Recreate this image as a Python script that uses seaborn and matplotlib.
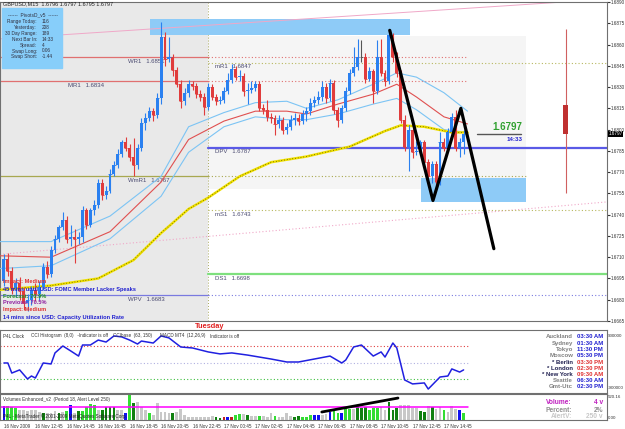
import matplotlib
matplotlib.use("Agg")
import matplotlib.pyplot as plt
from matplotlib.patches import Rectangle
import numpy as np
import pandas as pd
import seaborn as sns

sns.set_style("white")
plt.rcParams["font.family"] = ["Liberation Sans", "DejaVu Sans"]

# ---------------------------------------------------------------
# GBPUSD M15 candles, bar 0 = 16 Nov 2009 10:45
# ---------------------------------------------------------------
first_open = 1.6693
close = [1.6709, 1.6700, 1.6688, 1.6692, 1.6686, 1.6678, 1.6680, 1.6687, 1.6684, 1.6689,
         1.6703, 1.6698, 1.6715, 1.6723, 1.6731, 1.6736, 1.6723, 1.6724, 1.6723, 1.6724,
         1.6743, 1.6733, 1.6743, 1.6747, 1.6762, 1.6754, 1.6757, 1.6769, 1.6775, 1.6783,
         1.6791, 1.6787, 1.6781, 1.6775, 1.6787, 1.6805, 1.6808, 1.6813, 1.6810, 1.6822,
         1.6865, 1.6850, 1.6851, 1.6842, 1.6832, 1.6820, 1.6826, 1.6832, 1.6831, 1.6825,
         1.6823, 1.6816, 1.6830, 1.6823, 1.6820, 1.6821, 1.6827, 1.6835, 1.6843, 1.6837,
         1.6838, 1.6827, 1.6828, 1.6829, 1.6832, 1.6815, 1.6814, 1.6809, 1.6808, 1.6804,
         1.6807, 1.6800, 1.6802, 1.6807, 1.6808, 1.6806, 1.6811, 1.6813, 1.6819, 1.6821,
         1.6823, 1.6830, 1.6822, 1.6833, 1.6814, 1.6807, 1.6815, 1.6827, 1.6840, 1.6844,
         1.6851, 1.6851, 1.6836, 1.6841, 1.6827, 1.6851, 1.6840, 1.6834, 1.6867, 1.6851,
         1.6840, 1.6807, 1.6788, 1.6800, 1.6784, 1.6785, 1.6791, 1.6777, 1.6767, 1.6776,
         1.6763, 1.6791, 1.6787, 1.6798, 1.6809, 1.6787, 1.6791, 1.6797]
high = [1.6712, 1.6713, 1.6703, 1.6695, 1.6696, 1.6689, 1.6684, 1.6690, 1.6692, 1.6693,
        1.6706, 1.6707, 1.6718, 1.6726, 1.6733, 1.6742, 1.6739, 1.6733, 1.6730, 1.6728,
        1.6746, 1.6745, 1.6745, 1.6750, 1.6765, 1.6765, 1.6760, 1.6772, 1.6778, 1.6786,
        1.6793, 1.6795, 1.6790, 1.6794, 1.6790, 1.6808, 1.6812, 1.6816, 1.6815, 1.6826,
        1.6876, 1.6869, 1.6865, 1.6853, 1.6844, 1.6835, 1.6829, 1.6835, 1.6834, 1.6833,
        1.6828, 1.6826, 1.6833, 1.6832, 1.6825, 1.6824, 1.6830, 1.6840, 1.6846, 1.6845,
        1.6842, 1.6840, 1.6833, 1.6834, 1.6834, 1.6834, 1.6818, 1.6821, 1.6812, 1.6810,
        1.6810, 1.6809, 1.6805, 1.6810, 1.6812, 1.6811, 1.6814, 1.6816, 1.6822, 1.6824,
        1.6827, 1.6834, 1.6833, 1.6836, 1.6835, 1.6816, 1.6817, 1.6830, 1.6843, 1.6858,
        1.6864, 1.6863, 1.6854, 1.6844, 1.6843, 1.6863, 1.6864, 1.6842, 1.6870, 1.6868,
        1.6855, 1.6842, 1.6810, 1.6803, 1.6802, 1.6792, 1.6793, 1.6793, 1.6779, 1.6778,
        1.6778, 1.6798, 1.6794, 1.6801, 1.6812, 1.6814, 1.6794, 1.6800]
low = [1.6690, 1.6697, 1.6684, 1.6682, 1.6680, 1.6673, 1.6672, 1.6676, 1.6679, 1.6680,
       1.6687, 1.6695, 1.6696, 1.6713, 1.6721, 1.6729, 1.6720, 1.6718, 1.6706, 1.6719,
       1.6721, 1.6730, 1.6731, 1.6740, 1.6745, 1.6750, 1.6751, 1.6755, 1.6767, 1.6773,
       1.6781, 1.6785, 1.6778, 1.6767, 1.6772, 1.6785, 1.6800, 1.6806, 1.6806, 1.6808,
       1.6818, 1.6845, 1.6848, 1.6838, 1.6830, 1.6815, 1.6817, 1.6823, 1.6828, 1.6822,
       1.6820, 1.6810, 1.6814, 1.6821, 1.6817, 1.6818, 1.6819, 1.6825, 1.6833, 1.6835,
       1.6834, 1.6824, 1.6818, 1.6826, 1.6827, 1.6813, 1.6811, 1.6806, 1.6805, 1.6796,
       1.6801, 1.6797, 1.6797, 1.6800, 1.6803, 1.6803, 1.6804, 1.6806, 1.6810, 1.6816,
       1.6818, 1.6820, 1.6819, 1.6820, 1.6811, 1.6802, 1.6805, 1.6813, 1.6825, 1.6838,
       1.6842, 1.6848, 1.6833, 1.6834, 1.6819, 1.6825, 1.6838, 1.6831, 1.6832, 1.6848,
       1.6837, 1.6805, 1.6785, 1.6771, 1.6780, 1.6782, 1.6783, 1.6775, 1.6764, 1.6762,
       1.6760, 1.6761, 1.6785, 1.6785, 1.6796, 1.6785, 1.6781, 1.6783]

# daily candle drawn in the right margin
day_bar = 143
day_open, day_high, day_low, day_close = 1.6817, 1.6871, 1.6755, 1.6797

# moving averages / bands, read at a handful of bars
ma_bar = [-1, 12, 24, 33, 40, 47, 52, 60, 68, 77, 88, 97, 101, 107, 114, 118]
ma_val = [1.6687, 1.6690, 1.6695, 1.6708, 1.6727, 1.6744, 1.6752, 1.6767, 1.6777, 1.6781,
          1.6788, 1.6799, 1.6803, 1.6802, 1.6798, 1.6798]
band_bar = [-1, 12, 27, 40, 47, 56, 64, 72, 77, 85, 94, 100, 105, 112, 118]
band_up = [1.6721, 1.6721, 1.6739, 1.6767, 1.6802, 1.6812, 1.6819, 1.6820, 1.6815, 1.6821,
           1.6832, 1.6840, 1.6837, 1.6826, 1.6813]
band_mid = [1.6711, 1.6710, 1.6728, 1.6763, 1.6793, 1.6806, 1.6813, 1.6813, 1.6811, 1.6818,
            1.6825, 1.6832, 1.6823, 1.6809, 1.6804]
band_lo = [1.6702, 1.6704, 1.6723, 1.6753, 1.6784, 1.6802, 1.6809, 1.6807, 1.6807, 1.6811,
           1.6818, 1.6822, 1.6814, 1.6800, 1.6798]

# channel lines (pink)
chan_bar = [-1, 153.5]
chan_top = [1.6864, 1.6892]
chan_bot = [1.6712, 1.6749]

# pivot levels
pivot_names = ["WR1", "MR1", "mR1", "DPV", "WmR1", "mS1", "DS1", "WPV"]
pivot_prices = [1.6851, 1.6834, 1.6847, 1.6787, 1.6767, 1.6743, 1.6698, 1.6683]
pivot_weekly = [True, True, False, False, True, False, False, True]
pivot_colors = ["#e07070", "#e07070", "#b8b860", "#5a5ae6", "#a8a850", "#b8b860",
                "#7ee07e", "#7a7ae0"]
day_split = 52

# zones and hand drawn zigzag
zone_top = (37.2, 103.3, 1.6867, 1.6878)
zone_bot = (106.1, 133.0, 1.6749, 1.6766)
zz_bar = [98.2, 109.2, 116.3, 124.7]
zz_price = [1.6870, 1.6750, 1.6815, 1.6716]

# CCI
cci_bar = [0, 1, 2, 4, 6, 7, 8, 10, 12, 13, 15, 17, 19, 20, 22, 24, 26, 28, 30, 32, 34, 35,
           38, 40, 42, 45, 48, 52, 55, 58, 62, 65, 68, 72, 75, 79, 83, 86, 87, 89, 91, 94,
           96, 97, 99, 100, 102, 104, 107, 108, 111, 113, 114, 116, 117]
cci_val = [0, 0, -61, -42, -97, -79, -91, 0, -6, 61, 103, 73, 42, 109, 109, 139, 127, 164,
           158, 139, 115, 133, 121, 164, 152, 97, 91, 67, 55, 61, 48, 36, 24, 6, 6, 24, 42,
           0, 18, 97, 109, 42, 67, 36, 121, 91, -103, -127, -121, -158, -85, -79, -36, -55,
           -42]

# volumes
vol = [277, 277, 263, 229, 195, 195, 181, 195, 195, 160, 140, 126, 126, 174, 140, 160, 174,
       297, 126, 174, 174, 249, 318, 297, 195, 195, 249, 249, 249, 195, 195, 140, 502, 331,
       365, 249, 195, 126, 92, 345, 160, 160, 140, 126, 160, 208, 92, 58, 44, 44, 44, 44,
       44, 72, 58, 24, 44, 44, 44, 92, 113, 113, 92, 72, 72, 72, 72, 44, 140, 72, 44, 58,
       126, 72, 58, 72, 44, 44, 92, 92, 92, 92, 113, 160, 195, 126, 126, 229, 208, 208, 297,
       229, 263, 195, 229, 229, 249, 195, 365, 195, 229, 297, 297, 297, 229, 229, 181, 160,
       277, 249, 208, 249, 195, 160, 277, 208, 195, 140]
vol_kind = list("bgggssssssdsssdsgbsdggggsddddssbgdsssgsssssdssssssssssddrbrggsdssgsssgssssddgggbbssbggbggsdddgggssdddsssssddsdssgsss")
vol_line_bar = [80.9, 100.3]
vol_line_val = [154, 440]

time_labels = ["16 Nov 2009", "16 Nov 12:45", "16 Nov 14:45", "16 Nov 16:45", "16 Nov 18:45",
               "16 Nov 20:45", "16 Nov 22:45", "17 Nov 00:45", "17 Nov 02:45", "17 Nov 04:45",
               "17 Nov 06:45", "17 Nov 08:45", "17 Nov 10:45", "17 Nov 12:45", "17 Nov 14:45"]
price_ticks = [1.6890, 1.6875, 1.6860, 1.6845, 1.6830, 1.6815, 1.6800, 1.6785, 1.6770,
               1.6755, 1.6740, 1.6725, 1.6710, 1.6695, 1.6680, 1.6665]

info_names = ["Range Today:", "Yesterday:", "30 Day Range:", "Next Bar In:", "Spread:",
              "Swap Long:", "Swap Short:"]
info_vals = ["116", "208", "189", "14:33", "4", "0.06", "-1.44"]

cities = ["Auckland", "Sydney", "Tokyo", "Moscow", "* Berlin", "* London", "* New York",
          "Seattle", "Gmt-Utc"]
city_times = ["03:30 AM", "01:30 AM", "11:30 PM", "05:30 PM", "03:30 PM", "02:30 PM",
              "09:30 AM", "06:30 AM", "02:30 PM"]
city_open = [False, False, False, False, True, True, True, False, False]

news_lines = ["Impact: Medium", "45 mins until USD: FOMC Member Lacker Speaks",
              "Forecast: 70.9%", "Previous: 70.5%", "Impact: Medium",
              "14 mins since USD: Capacity Utilization Rate"]
news_colors = ["#e03030", "#2020d0", "#209020", "#9020a0", "#e03030", "#2020d0"]

cci_labels = ["P4L Clock", "CCI Histogram  (8,0)   -Indicator is off", "CCIbase  (63, 150)",
              "MACD MT4  (12,26,9)", "Indicator is off"]

# ---------------------------------------------------------------
W, H = 625, 429
fig = plt.figure(figsize=(W / 100, H / 100), dpi=100)


def fx(px):
    return px / W


def fy(py):
    return 1 - py / H


ax = fig.add_axes([fx(0), fy(321), fx(607), (321 - 2) / H])
cax = fig.add_axes([fx(0), fy(393), fx(607), (393 - 330) / H])
vax = fig.add_axes([fx(0), fy(420), fx(607), (420 - 394) / H])
XL = (-1.0, 153.5)
for a in (ax, cax, vax):
    a.set_xlim(*XL)
    for s in a.spines.values():
        s.set_color("#707070")
        s.set_linewidth(0.8)
    a.tick_params(axis="both", labelsize=3.3, length=2, pad=0.8, colors="#333333")
    a.set_xticks([])

# ---- main price panel ----
ax.set_ylim(1.66663, 1.68896)
ax.axvspan(XL[0], day_split, color="#e9e9e9", zorder=0, lw=0)
ax.add_patch(Rectangle((day_split, 1.6758), 133 - day_split, 1.6866 - 1.6758,
                       color="#f5f5f5", zorder=0, lw=0))
ax.axvline(day_split, color="#a8a860", ls=(0, (1, 2)), lw=0.7, zorder=1)

for x0, x1, p0, p1 in (zone_top, zone_bot):
    ax.add_patch(Rectangle((x0, p0), x1 - x0, p1 - p0, color="#8ecbf7", zorder=1, lw=0))

ax.plot(chan_bar, chan_top, color="#f0a8c8", lw=0.7, zorder=1)
ax.plot(chan_bar, chan_bot, color="#f0a8c8", lw=0.8, ls=(0, (1, 2)), zorder=1)

for name, p, wk, col in zip(pivot_names, pivot_prices, pivot_weekly, pivot_colors):
    lw = 1.6 if name in ("DPV", "DS1") else 0.9
    if wk:
        ax.plot([XL[0], day_split], [p, p], color=col, lw=lw, zorder=2)
        end = 118 if name in ("WR1", "MR1") else 133 if name == "WmR1" else XL[1]
        ax.plot([day_split, end], [p, p], color=col, lw=0.8, ls=(0, (1, 2)), zorder=2)
        lx = 16.3 if name == "MR1" else 31.5
    else:
        if name in ("DPV", "DS1"):
            ax.plot([day_split, XL[1]], [p, p], color=col, lw=lw, zorder=2)
        else:
            ax.plot([day_split, XL[1]], [p, p], color=col, lw=0.8, ls=(0, (1, 2)), zorder=2)
        lx = 53.7
    ax.annotate(f"{name}   {p:.4f}", (lx, p), xytext=(0, -1), textcoords="offset points",
                ha="left", va="top", fontsize=4.3, color="#4a4a70", zorder=2)

sns.lineplot(x=band_bar, y=band_up, ax=ax, color="#7cc4f4", lw=0.8, zorder=3)
sns.lineplot(x=band_bar, y=band_mid, ax=ax, color="#e05050", lw=0.8, zorder=3)
sns.lineplot(x=band_bar, y=band_lo, ax=ax, color="#7cc4f4", lw=0.8, zorder=3)
sns.lineplot(x=ma_bar, y=ma_val, ax=ax, color="#f0e000", lw=1.8, zorder=3)
ax.plot(ma_bar, ma_val, color="#202000", lw=0.5, ls=(0, (1, 3)), zorder=3)

opens = [first_open] + close[:-1]
df = pd.DataFrame({"o": opens, "h": high, "l": low, "c": close})
df["x"] = np.arange(len(df))
df["col"] = np.where(df.c > df.o, "#2a80f0", np.where(df.c < df.o, "#e03c3c", "#555555"))
ax.vlines(df.x, df.l, df.h, colors=df.col, lw=0.8, zorder=4)
ax.bar(df.x, df.c - df.o, bottom=df.o, width=0.75, color=df.col, lw=0, zorder=5)
ax.hlines(df.c, df.x - 0.4, df.x + 0.4, colors=df.col, lw=0.6, zorder=5)

ax.vlines(day_bar, day_low, day_high, colors="#d06060", lw=0.8, zorder=4)
ax.bar([day_bar], [day_close - day_open], bottom=[day_open], width=1.3,
       color="#c03030", lw=0, zorder=5)

ax.plot(zz_bar, zz_price, color="black", lw=2.3, solid_capstyle="round", zorder=6)

ax.plot([120.5, 131.5], [day_close, day_close], color="#555555", lw=1.0, zorder=6)
ax.annotate(f"{day_close:.4f}", (132, day_close), xytext=(0, 1.5), textcoords="offset points",
            ha="right", va="bottom", fontsize=7, color="#30a030", fontweight="bold")
ax.annotate("14:33", (132, day_close), xytext=(0, -2), textcoords="offset points",
            ha="right", va="top", fontsize=4.5, color="#2020d0", fontweight="bold")

ax.yaxis.tick_right()
ax.set_yticks(price_ticks)
ax.set_yticklabels([f"{v:.4f}" for v in price_ticks])
ax.tick_params(axis="y", right=True, labelsize=3.3)
ax.text(1.002, day_close, f"{day_close:.4f}", transform=ax.get_yaxis_transform(),
        fontsize=3.3, color="white", va="center", ha="left",
        bbox=dict(boxstyle="square,pad=0.15", fc="black", ec="none"))

# ---- CCI panel ----
cax.set_ylim(-182, 200)
cax.set_yticks([])
for lvl, col in ((100, "#e04040"), (0, "#b0b0e0"), (-100, "#40c040")):
    cax.plot([XL[0], 118], [lvl, lvl], color=col, lw=0.8, ls=(0, (1, 2)))
sns.lineplot(x=cci_bar, y=cci_val, ax=cax, color="#2020e0", lw=1.1)
cax.set_xlabel("")
cax.set_ylabel("")

# ---- volume panel ----
vax.set_ylim(-10, 523)
vax.set_yticks([])
kind_col = {"b": "#1010f0", "g": "#33dd33", "d": "#108010", "s": "#c8c8c8", "r": "#c02020"}
vx = np.arange(len(vol))
vax.bar(vx, vol, width=0.7, color=[kind_col[k] for k in vol_kind], lw=0)
vax.plot([XL[0], 118], [250, 250], color="#ff00ff", lw=1.1)
vax.plot(vol_line_bar, vol_line_val, color="black", lw=2, solid_capstyle="round")
vax.set_xticks(np.arange(0, 8 * len(time_labels), 8))
vax.set_xticklabels(time_labels, ha="left", fontsize=3.3)
vax.tick_params(axis="x", length=2, pad=0.8)

for a in (ax, cax, vax):
    a.set_ylabel("")
    if a is not vax:
        a.set_xlabel("")
    a.set_xlim(*XL)


# ---- text overlays ----
def put(px, py, s, **kw):
    kw.setdefault("fontsize", 4.5)
    fig.text(fx(px), fy(py), s, va="center", **kw)


put(3, 4, "GBPUSD,M15  1.6796 1.6797 1.6795 1.6797", color="#222222", fontsize=4)
fig.patches.append(Rectangle((fx(2), fy(68)), fx(60), 60 / H, transform=fig.transFigure,
                             color="#87cefa", zorder=3))
put(33, 15, "------  PivotsD_v5  ------", ha="center", color="#303040", fontsize=3.5)
for i, (n, v) in enumerate(zip(info_names, info_vals)):
    put(37, 21.5 + 5.9 * i, n, ha="right", color="#303040", fontsize=3.4)
    put(42, 21.5 + 5.9 * i, v, ha="left", color="#303040", fontsize=3.4)

for i, (s, c) in enumerate(zip(news_lines, news_colors)):
    put(3, 282 + 7 * i, s, color=c, fontweight="bold", fontsize=4.1)

put(210, 326, "Tuesday", ha="center", color="#e02020", fontweight="bold", fontsize=5.3)

for px, s in zip([3, 31, 113, 160, 210], cci_labels):
    put(px, 336, s, color="#333333", fontsize=3.3)
for i, (c, t, op) in enumerate(zip(cities, city_times, city_open)):
    yy = 337 + 6.25 * i
    put(573, yy, c, ha="right", color="#202050" if op else "#808080", fontweight="bold",
        fontsize=4.3)
    put(577, yy, t, ha="left", color="#e03030" if op else "#2020d0", fontweight="bold",
        fontsize=4.3)
put(608, 336, "900000", color="#333333", fontsize=3.2)
put(608, 388, "-900000", color="#333333", fontsize=3.2)

put(3, 399, "Volumes Enhanced_v2  (Period 18, Alert Level 250)", color="#333333", fontsize=3.3)
put(3, 416, "P4L - MetaTrader \u00a9 2001-2009 MetaQuotes Software Corp.", color="#202020",
    fontsize=3.3)
put(572, 403, "Volume:", ha="right", color="#c020c0", fontweight="bold", fontsize=4.8)
put(603, 403, "4 v", ha="right", color="#c020c0", fontweight="bold", fontsize=4.8)
put(572, 410, "Percent:", ha="right", color="#909090", fontweight="bold", fontsize=4.8)
put(603, 410, "2%", ha="right", color="#909090", fontweight="bold", fontsize=4.8)
put(572, 417, "AlertV:", ha="right", color="#c8c8c8", fontweight="bold", fontsize=4.8)
put(603, 417, "250 v", ha="right", color="#c8c8c8", fontweight="bold", fontsize=4.8)
put(608, 397, "520.16", color="#333333", fontsize=3.2)
put(608, 418, "0.00", color="#333333", fontsize=3.2)

fig.savefig("out.png", dpi=100, facecolor="white")
